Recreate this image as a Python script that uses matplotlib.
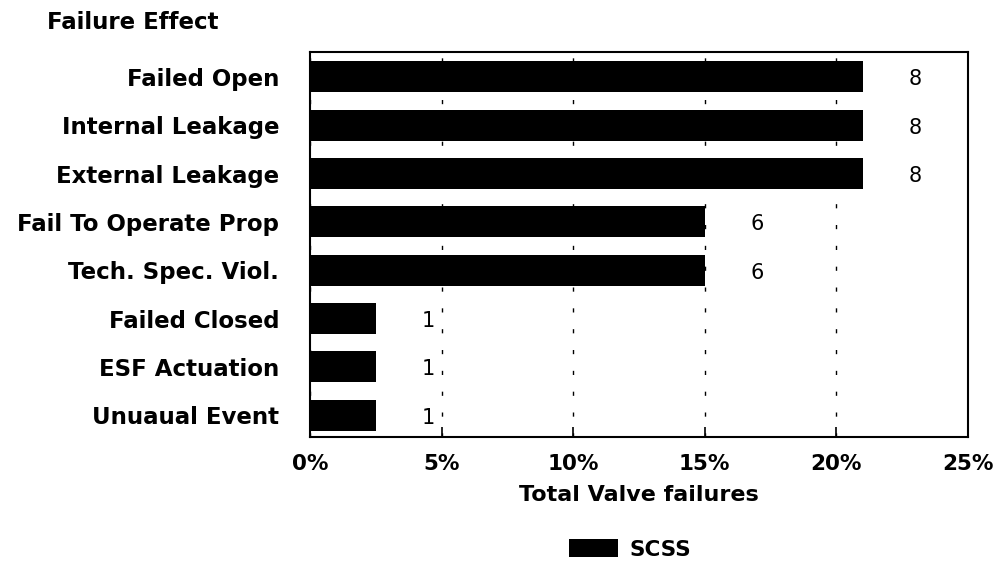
import matplotlib.pyplot as plt
import numpy as np
from matplotlib.ticker import FuncFormatter

effects = ["Failed Open", "Internal Leakage", "External Leakage",
           "Fail To Operate Prop", "Tech. Spec. Viol.", "Failed Closed",
           "ESF Actuation", "Unuaual Event"]
counts = [8, 8, 8, 6, 6, 1, 1, 1]
pct = [21.0, 21.0, 21.0, 15.0, 15.0, 2.5, 2.5, 2.5]
xticks = [0, 5, 10, 15, 20, 25]

plt.rcParams['font.family'] = ['DejaVu Sans']

fig = plt.figure(figsize=(10.03, 5.69), dpi=100)
ax = fig.add_axes([0.309, 0.232, 0.656, 0.677])

y = np.arange(len(effects))
ax.barh(y, pct, height=0.64, color='black', zorder=3, label='SCSS')

for yi, v, c in zip(y, pct, counts):
    ax.text(v + 2.0, yi + 0.05, str(c), ha='center', va='center', fontsize=15)

ax.set_xlim(0, 25)
ax.set_ylim(7.45, -0.52)
ax.set_xticks(xticks)
ax.xaxis.set_major_formatter(FuncFormatter(lambda v, p: "%d%%" % v))
ax.set_yticks(y)
ax.set_yticklabels(effects, fontsize=16.5, fontweight='bold')
ax.tick_params(axis='y', length=0, pad=22)
ax.tick_params(axis='x', direction='in', length=7, width=1.2, pad=12,
               labelsize=15.5)
for t in ax.get_xticklabels():
    t.set_fontweight('bold')

ax.grid(axis='x', color='black', linestyle=(0, (3, 12)), linewidth=1, zorder=0)
for s in ax.spines.values():
    s.set_linewidth(1.5)

ax.set_xlabel("Total Valve failures", fontsize=16, fontweight='bold', labelpad=8)
fig.text(0.047, 0.961, "Failure Effect", fontsize=16.5, fontweight='bold',
         ha='left', va='center')

fig.legend(loc='center', bbox_to_anchor=(0.628, 0.034), frameon=False,
           handlelength=2.3, handleheight=0.9, handletextpad=0.5,
           prop={'size': 15.5, 'weight': 'bold'})

fig.savefig("out.png", dpi=100)
